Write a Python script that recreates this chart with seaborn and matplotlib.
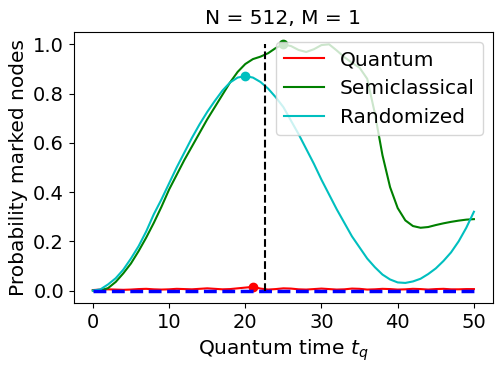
import numpy as np
import pandas as pd
import matplotlib
matplotlib.use("Agg")
import matplotlib.pyplot as plt
import seaborn as sns

N = 512
M = 1

t_q = list(range(0, 51))

quantum = [0.002, 0.004, 0.005, 0.004, 0.003, 0.004, 0.006, 0.007, 0.005, 0.004,
           0.005, 0.007, 0.006, 0.005, 0.007, 0.009, 0.007, 0.005, 0.006, 0.009,
           0.012, 0.015, 0.008, 0.004, 0.006, 0.009, 0.008, 0.005, 0.004, 0.006,
           0.008, 0.006, 0.004, 0.005, 0.008, 0.007, 0.004, 0.005, 0.007, 0.006,
           0.004, 0.005, 0.007, 0.006, 0.004, 0.006, 0.007, 0.005, 0.005, 0.006,
           0.006]

semiclassical = [0.0, 0.0, 0.01, 0.035, 0.07, 0.11, 0.16, 0.215, 0.275, 0.34,
                 0.41, 0.47, 0.53, 0.585, 0.64, 0.695, 0.745, 0.795, 0.845, 0.888,
                 0.92, 0.94, 0.95, 0.964, 0.985, 1.0, 0.993, 0.977, 0.969, 0.98,
                 0.997, 1.0, 0.975, 0.948, 0.925, 0.905, 0.86, 0.72, 0.55, 0.42,
                 0.335, 0.285, 0.262, 0.255, 0.258, 0.266, 0.273, 0.279, 0.284, 0.288,
                 0.29]

randomized = [0.0, 0.005, 0.025, 0.05, 0.085, 0.13, 0.18, 0.24, 0.31, 0.37,
              0.435, 0.5, 0.56, 0.62, 0.675, 0.725, 0.77, 0.812, 0.845, 0.865,
              0.871, 0.865, 0.847, 0.82, 0.785, 0.745, 0.69, 0.635, 0.575, 0.515,
              0.45, 0.39, 0.33, 0.275, 0.22, 0.175, 0.13, 0.095, 0.065, 0.045,
              0.033, 0.031, 0.037, 0.048, 0.067, 0.09, 0.12, 0.155, 0.2, 0.255,
              0.32]

df = pd.DataFrame({
    "t": t_q,
    "Quantum": quantum,
    "Semiclassical": semiclassical,
    "Randomized": randomized,
})

colors = {"Quantum": "r", "Semiclassical": "g", "Randomized": "c"}

plt.rcParams["font.family"] = ["DejaVu Sans"]

fig, ax = plt.subplots(figsize=(5.02, 3.68), dpi=100)
fig.subplots_adjust(left=0.147, right=0.982, top=0.913, bottom=0.177)

for name in ["Quantum", "Semiclassical", "Randomized"]:
    sns.lineplot(data=df, x="t", y=name, color=colors[name], label=name, ax=ax)
    i = int(np.argmax(df[name]))
    ax.plot(df["t"][i], df[name][i], "o", color=colors[name], markersize=6)

# zero line and sqrt(N) marker
ax.plot([df["t"].min(), df["t"].max()], [0, 0], "b--", linewidth=2.5)
ax.vlines(np.sqrt(N), 0, 1, colors="k", linestyles="--")

ax.set_title(f"N = {N}, M = {M}", fontsize=14.5)
ax.set_xlabel("Quantum time $t_q$", fontsize=14.5)
ax.set_ylabel("Probability marked nodes", fontsize=14.5)
ax.set_xticks([0, 10, 20, 30, 40, 50])
ax.set_yticks([0.0, 0.2, 0.4, 0.6, 0.8, 1.0])
ax.tick_params(labelsize=14)
ax.legend(loc="upper right", fontsize=14.5)

fig.savefig("out.png", dpi=100)
